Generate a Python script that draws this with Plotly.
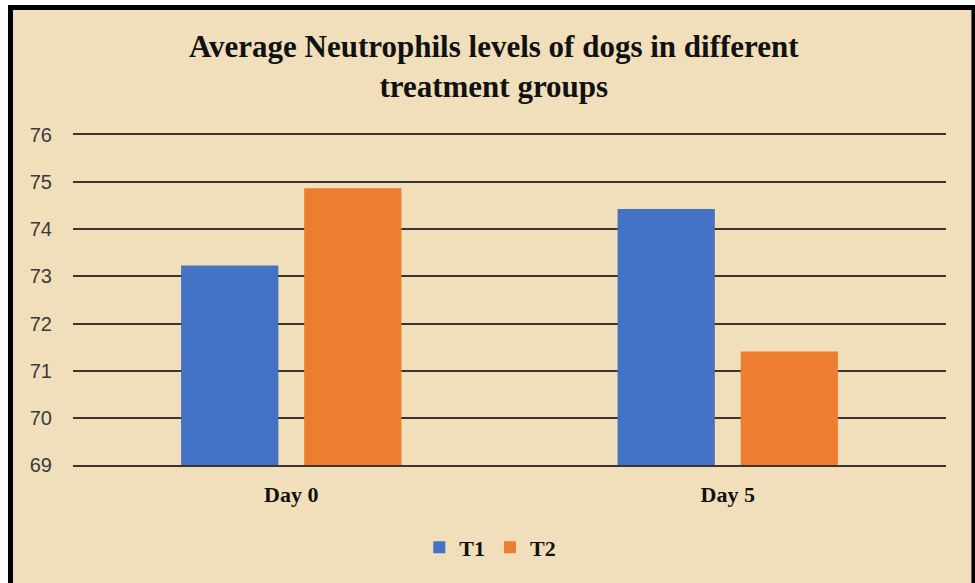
import plotly.graph_objects as go

# podaci procitani sa slike
dani = ["Day 0", "Day 5"]
t1 = [73.23, 74.43]
t2 = [74.87, 71.41]
y_ticks = [69, 70, 71, 72, 73, 74, 75, 76]

BOJA_T1 = "#4472C4"
BOJA_T2 = "#ED7D31"
PERGAMENT = "#F0DFBA"
MREZA = "#3d3434"

SERIF = "Liberation Serif, Times New Roman, serif"
SANS = "Liberation Sans, Arial, sans-serif"

fig = go.Figure()
fig.add_trace(go.Bar(x=dani, y=t1, name="T1", marker=dict(color=BOJA_T1, line=dict(width=0))))
fig.add_trace(go.Bar(x=dani, y=t2, name="T2", marker=dict(color=BOJA_T2, line=dict(width=0))))

# okvir + pozadina (pergament)
fig.add_shape(
    type="rect", xref="paper", yref="paper",
    x0=-0.0716, x1=1.032, y0=-0.38, y1=1.386,
    fillcolor=PERGAMENT, line=dict(color="black", width=5),
    layer="below",
)

fig.update_layout(
    width=975, height=583,
    margin=dict(l=73, r=29, t=135, b=118),
    paper_bgcolor="white",
    plot_bgcolor="rgba(0,0,0,0)",
    barmode="group",
    bargap=0.436,
    bargroupgap=0.21,
    title=dict(
        text="Average Neutrophils levels of dogs in different<br>treatment groups",
        font=dict(family=SERIF, size=31, color="#111111", weight="bold"),
        x=0.482, xref="paper", xanchor="center",
        y=1 - 57 / 583, yref="container", yanchor="top",
    ),
    legend=dict(
        orientation="h", x=0.478, xanchor="center", y=-0.25, yanchor="middle",
        font=dict(family=SERIF, size=22, color="#111111", weight="bold"),
        bgcolor="rgba(0,0,0,0)",
    ),
    showlegend=True,
)

fig.update_yaxes(
    range=[69, 76], tickvals=y_ticks,
    showgrid=True, gridcolor=MREZA, gridwidth=2,
    zeroline=False, showline=False,
    ticks="outside", ticklen=16, tickcolor="rgba(0,0,0,0)",
    tickfont=dict(family=SANS, size=20, color="#3a3a3a"),
)
# donja (69) i gornja (76) linija
fig.update_xaxes(
    showgrid=False, zeroline=False,
    showline=True, mirror=True, linecolor=MREZA, linewidth=2,
    ticks="outside", ticklen=9, tickcolor="rgba(0,0,0,0)",
    tickfont=dict(family=SERIF, size=22, color="#111111", weight="bold"),
)

fig.write_html(
    "out.html",
    config={"displayModeBar": False},
    post_script="document.body.style.margin='0';",
)
